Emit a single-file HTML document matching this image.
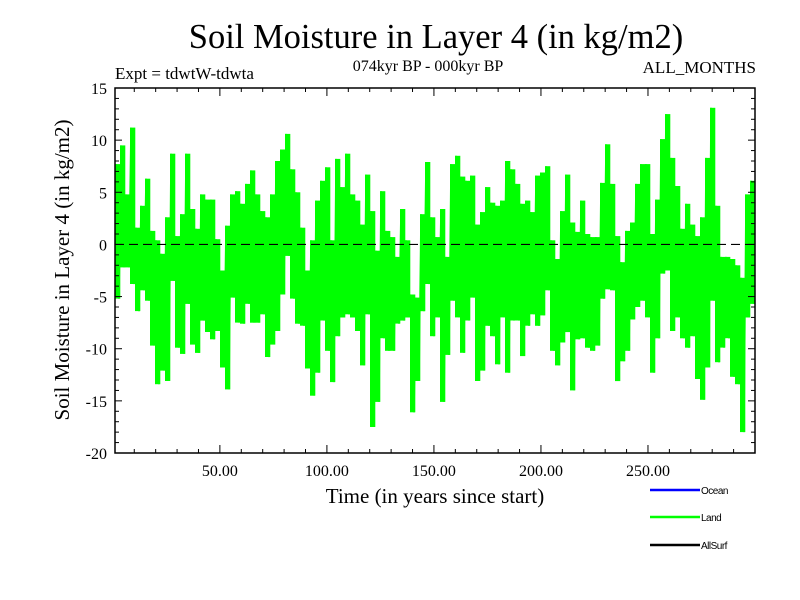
<!DOCTYPE html>
<html><head><meta charset="utf-8"><style>
html,body{margin:0;padding:0;background:#fff;}
svg{display:block;font-family:"Liberation Serif",serif;}
</style></head><body>
<svg id="chart" width="800" height="600" viewBox="0 0 800 600">
<text x="436" y="48" font-size="34.5" text-anchor="middle">Soil Moisture in Layer 4 (in kg/m2)</text>
<text x="115" y="79" font-size="17">Expt = tdwtW-tdwta</text>
<text x="428" y="71" font-size="16" text-anchor="middle">074kyr BP - 000kyr BP</text>
<text x="756" y="73" font-size="17" text-anchor="end">ALL_MONTHS</text>
<text x="435" y="503" font-size="21" text-anchor="middle">Time (in years since start)</text>
<text transform="translate(69,270) rotate(-90)" font-size="21" text-anchor="middle">Soil Moisture in Layer 4 (in kg/m2)</text>
<g id="series"></g>
<g id="axes"></g>
<g font-family="Liberation Sans, sans-serif" font-size="10">
 <g><line x1="650" y1="490" x2="700" y2="490" stroke="#0000ff" stroke-width="2.5"/><text x="701" y="494" letter-spacing="-0.5">Ocean</text></g>
 <g><line x1="650" y1="517" x2="700" y2="517" stroke="#00ff00" stroke-width="2.5"/><text x="701" y="521" letter-spacing="-0.5">Land</text></g>
 <g><line x1="650" y1="545" x2="700" y2="545" stroke="#000" stroke-width="2.5"/><text x="701" y="549" letter-spacing="-0.5">AllSurf</text></g>
</g>
</svg>
<script>
const landHigh=[7.7,9.5,4.8,11.2,1.6,3.7,6.3,1.3,0.4,-0.9,2.6,8.7,0.8,2.9,8.7,3.4,1.5,4.8,4.3,4.3,0.5,-2.5,1.8,4.8,5.1,3.9,5.8,7.1,4.8,3.2,2.6,4.8,8.0,9.1,10.6,7.2,5.0,1.6,-2.5,0.4,4.2,6.1,7.4,0.4,8.2,5.5,8.7,4.8,4.2,1.9,6.7,3.2,-0.6,5.1,1.3,0.7,-1.2,3.4,0.4,-4.8,-5.1,2.9,7.9,2.6,0.7,
3.4,-1.2,7.7,8.5,6.5,6.1,6.6,1.9,3.1,5.5,4.0,3.7,4.2,8.0,7.2,5.8,3.9,4.2,3.1,6.6,6.9,7.5,0.4,-1.4,3.2,6.7,2.1,1.2,4.2,1.0,0.7,0.7,5.9,9.6,5.8,0.8,-1.7,1.3,2.1,5.8,7.7,7.7,1.0,4.3,10.1,12.5,8.3,5.6,1.5,3.9,1.9,0.8,2.6,8.3,13.1,3.7,-1.2,-1.2,-1.4,-2.0,-3.2,4.8,6.1];
const landLow=[-5.2,-2.2,-2.2,-3.8,-6.4,-4.4,-5.4,-9.7,-13.4,-12.1,-13.1,-3.5,-9.9,-10.5,-5.7,-9.6,-10.4,-7.3,-8.4,-9.1,-8.3,-11.8,-13.9,-5.1,-7.5,-7.6,-5.7,-7.5,-7.5,-6.7,-10.8,-9.6,-8.3,-4.8,-1.1,-5.2,-7.6,-7.8,-11.9,-14.5,-12.3,-7.3,-10.2,-13.2,-8.8,-7.0,-6.7,-7.0,-8.3,-11.6,-6.7,-17.5,-15.1,-9.0,-10.2,-10.2,-7.6,-7.3,-7.0,-16.1,-13.1,-6.4,-3.8,-8.8,-7.0,
-15.1,-10.6,-5.4,-7.0,-10.4,-7.3,-5.1,-13.1,-12.1,-7.8,-8.8,-11.5,-7.0,-12.3,-7.3,-7.3,-10.7,-7.8,-6.7,-7.8,-6.8,-4.4,-10.2,-11.6,-9.4,-8.4,-14.0,-9.1,-9.0,-9.9,-10.2,-9.7,-5.2,-4.3,-4.4,-13.1,-11.2,-10.2,-7.2,-6.0,-5.4,-7.0,-12.3,-9.0,-2.8,-2.5,-8.3,-7.0,-9.0,-9.9,-8.8,-12.9,-14.9,-11.8,-5.4,-11.3,-9.9,-9.0,-12.7,-13.4,-18.0,-7.0,-5.7];
const xTickValues=[50,100,150,200,250];
const yTickValues=[15,10,5,0,-5,-10,-15,-20];
const xDomain=[1,300], yDomain=[-20,15];
const L=115,R=755,T=88,B=453;
const NS="http://www.w3.org/2000/svg";
function sx(t){return L+(t-xDomain[0])/(xDomain[1]-xDomain[0])*(R-L);}
function sy(v){return B-(v-yDomain[0])/(yDomain[1]-yDomain[0])*(B-T);}
function mk(tag,attrs,parent){const e=document.createElementNS(NS,tag);for(const k in attrs)e.setAttribute(k,attrs[k]);parent.appendChild(e);return e;}
const series=document.getElementById('series'),axes=document.getElementById('axes');
const n=landHigh.length, w=(xDomain[1]-xDomain[0])/n;
let pts=[];
for(let i=0;i<n;i++){
 const t0=xDomain[0]+i*w;
 const x1=sx(t0), x2=sx(t0+w);
 const bar=mk('rect',{x:x1.toFixed(1),y:sy(landHigh[i]).toFixed(1),width:(x2-x1+0.3).toFixed(1),height:(sy(landLow[i])-sy(landHigh[i])).toFixed(1),fill:'#00ff00'},series);
 
 
 pts.push(sx(t0+0.2*w).toFixed(1)+','+sy(landHigh[i]).toFixed(1));
 pts.push(sx(t0+0.8*w).toFixed(1)+','+sy(landLow[i]).toFixed(1));
}
const line=mk('polyline',{points:pts.join(' '),fill:'none',stroke:'#00ff00','stroke-width':1.5},series);


const z=mk('line',{x1:L,x2:R,y1:sy(0),y2:sy(0),stroke:'#000','stroke-width':1.2,'stroke-dasharray':'9,5'},axes);


const fr=mk('rect',{x:L,y:T,width:R-L,height:B-T,fill:'none',stroke:'#000','stroke-width':1.5},axes);


for(let v=yDomain[0];v<=yDomain[1];v++){const y=sy(v),len=(v%5===0)?7:4;
 mk('line',{x1:L,x2:L+len,y1:y,y2:y,stroke:'#000','stroke-width':1},axes);
 mk('line',{x1:R-len,x2:R,y1:y,y2:y,stroke:'#000','stroke-width':1},axes);}
yTickValues.forEach(v=>{const t=mk('text',{x:107,y:sy(v)+6,'font-size':16,'text-anchor':'end'},axes);t.textContent=String(v);
 
 });
for(let t=10;t<xDomain[1];t+=10){const x=sx(t),len=(t%50===0)?8:4;
 mk('line',{x1:x,x2:x,y1:B-len,y2:B,stroke:'#000','stroke-width':1},axes);
 mk('line',{x1:x,x2:x,y1:T,y2:T+len,stroke:'#000','stroke-width':1},axes);}
xTickValues.forEach(v=>{const t=mk('text',{x:sx(v),y:476,'font-size':16,'text-anchor':'middle'},axes);t.textContent=v.toFixed(2);
 
 });
</script>
</body></html>
